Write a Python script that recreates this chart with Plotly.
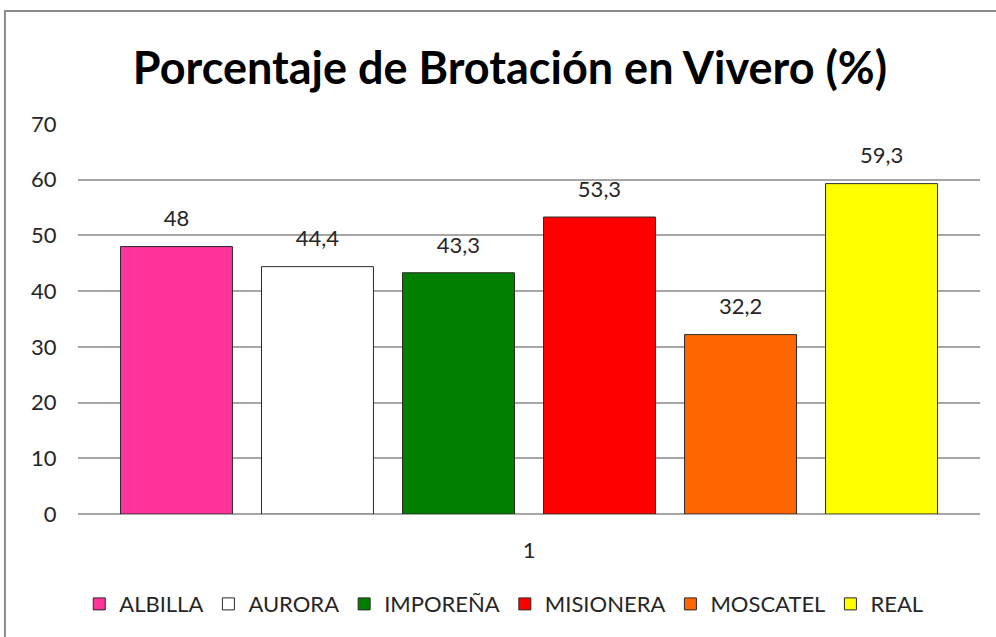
import plotly.graph_objects as go

categories = ["1"]
series_names = ["ALBILLA", "AURORA", "IMPOREÑA", "MISIONERA", "MOSCATEL", "REAL"]
series_values = [48, 44.4, 43.3, 53.3, 32.2, 59.3]
series_colors = ["#FF3399", "#FFFFFF", "#008000", "#FF0000", "#FF6600", "#FFFF00"]
y_ticks = [0, 10, 20, 30, 40, 50, 60, 70]

FONT = "Lato, Open Sans, sans-serif"
fig = go.Figure()
for name, val, col in zip(series_names, series_values, series_colors):
    fig.add_trace(go.Bar(
        x=categories, y=[val], name=name, offsetgroup=name,
        marker=dict(color=col, line=dict(color="#2a2a2a", width=1)),
    ))
for name, val in zip(series_names, series_values):
    fig.add_trace(go.Scatter(
        x=categories, y=[val], offsetgroup=name, mode="markers+text",
        marker=dict(size=22, color="rgba(0,0,0,0)"),
        text=[str(val).replace(".", ",")], textposition="top center",
        textfont=dict(size=22, color="#262626", family=FONT),
        showlegend=False, hoverinfo="skip", cliponaxis=False,
    ))

fig.update_layout(
    width=996, height=637,
    margin=dict(l=78, r=16, t=124, b=123),
    paper_bgcolor="white", plot_bgcolor="white",
    barmode="group", bargap=0.062, bargroupgap=0.206,
    scattermode="group", scattergap=0.062,
    font=dict(family=FONT, size=22, color="#262626"),
    title=dict(text="<b>Porcentaje de Brotación en Vivero (%)</b>",
               x=0.512, xanchor="center", y=0.893, yanchor="middle",
               font=dict(size=45, color="black", family=FONT)),
    showlegend=True,
    legend=dict(orientation="h", x=0.472, xanchor="center", y=-0.231, yanchor="middle",
                font=dict(size=22, color="#262626"), traceorder="normal"),
    xaxis=dict(showgrid=False, showline=False, ticks="outside", ticklen=17,
               tickcolor="rgba(0,0,0,0)", tickfont=dict(size=22)),
    yaxis=dict(range=[0, 70], tickvals=y_ticks, showgrid=True, gridcolor="#A6A6A6",
               gridwidth=1.5, zeroline=True, zerolinecolor="#A6A6A6", zerolinewidth=1.5,
               ticks="outside", ticklen=16, tickcolor="rgba(0,0,0,0)",
               tickfont=dict(size=22)),
    shapes=[dict(type="rect", xref="paper", yref="paper",
                 x0=-0.081, x1=1.03, y0=-0.35, y1=1.2897,
                 line=dict(color="#8C8C8C", width=2), layer="below")],
)
fig.write_html("out.html", config={"displayModeBar": False},
               post_script="document.body.style.margin='0';")
